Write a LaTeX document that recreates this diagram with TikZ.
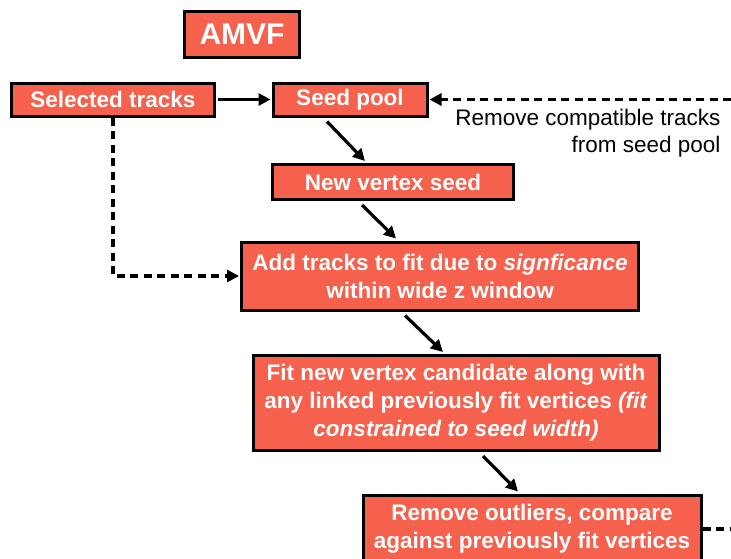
\documentclass[tikz,border=0pt]{standalone}
\usepackage{fontspec}
\setmainfont{Liberation Sans}
\usepackage{tikz}
\usetikzlibrary{arrows.meta,calc}

\definecolor{boxred}{RGB}{246,97,78}

\tikzset{
    stepbox/.style={draw=black, line width=3pt, fill=boxred, text=white,
        font=\fontsize{22.5}{28}\selectfont\bfseries, align=center, inner sep=0pt},
    flow/.style={line width=3.2pt, -{Triangle[length=12pt,width=12pt]}},
    loopback/.style={flow, dash pattern=on 8pt off 5.5pt},
}

\begin{document}
\begin{tikzpicture}[x=1pt,y=-1pt]
        \clip (0,0) rectangle (731,558);
        \fill[white] (0,0) rectangle (731,558);

        \node[stepbox, minimum width=115, minimum height=46,
            font=\fontsize{30}{32}\selectfont\bfseries] (amvf) at (242,34) {AMVF};
        \node[stepbox, minimum width=203, minimum height=33] (sel) at (113,99.5) {Selected tracks};
        \node[stepbox, minimum width=154, minimum height=33] (seed) at (350,99.5) {Seed pool};
        \node[stepbox, minimum width=241, minimum height=35] (nvs) at (393,182) {New vertex seed};
        \node[stepbox, minimum width=397, minimum height=68] (add) at (440,276)
            {Add tracks to fit due to \textit{signficance}\\within wide z window};
        \node[stepbox, minimum width=406, minimum height=95] (fit) at (456,403)
            {Fit new vertex candidate along with\\any linked previously fit vertices \textit{(fit}\\\textit{constrained to seed width)}};
        \node[stepbox, minimum width=338, minimum height=68] (outl) at (532,529)
            {Remove outliers, compare\\against previously fit vertices};

        \node[anchor=north east, align=right, font=\fontsize{22.5}{27}\selectfont] (rmtxt) at (724,106)
            {Remove compatible tracks\\from seed pool};

        \coordinate (loopR) at (745,0);

        \draw[flow, shorten <=2pt, shorten >=1pt] (sel.east) -- (seed.west);
        \draw[flow] ([xshift=-23pt,yshift=-4pt]seed.south) -- ([xshift=-28pt,yshift=2pt]nvs.north);
        \draw[flow] ([xshift=-31pt,yshift=-4pt]nvs.south) -- ([xshift=-44pt,yshift=2pt]add.north);
        \draw[flow] ([xshift=-35pt,yshift=-4pt]add.south) -- ([xshift=-13pt,yshift=2pt]fit.north);
        \draw[flow] ([xshift=27pt,yshift=-4pt]fit.south) -- ([xshift=-14pt,yshift=2pt]outl.north);

        \draw[loopback, shorten >=1pt] (sel.south) |- (add.west);
        \draw[loopback, shorten >=1pt] (outl.east) -- (outl.east -| loopR) |- (seed.east);
    \end{tikzpicture}
\end{document}
